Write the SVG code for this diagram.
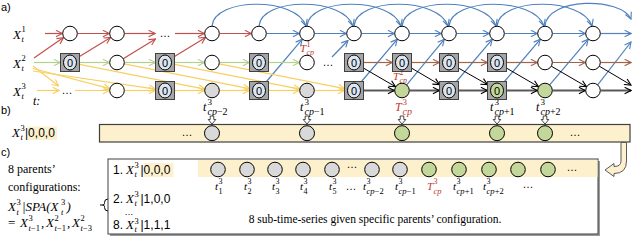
<svg xmlns="http://www.w3.org/2000/svg" width="640" height="241" viewBox="0 0 640 241">
<style>
text{font-family:"Liberation Serif","Times New Roman",serif;fill:#000}
.it{font-style:italic}
.up{font-style:normal}
.sa{font-family:"Liberation Sans",Arial,sans-serif}
.red{fill:#c0392b}
.dots{font-family:"Liberation Sans",Arial,sans-serif;font-size:11px;text-anchor:middle}
.nw{fill:#fff;stroke:#000;stroke-width:1}
.ng{fill:#d9d9d9;stroke:#000;stroke-width:1}
.nG{fill:#c4d79b;stroke:#000;stroke-width:1}
.bx{fill:#a5a5a5;stroke:#404040;stroke-width:1}
.zb{fill:#dce6f2;stroke:#000;stroke-width:1}
.zg{fill:#c4d79b;stroke:#000;stroke-width:1}
.z{font-family:"Liberation Sans",Arial,sans-serif;font-size:11px;text-anchor:middle}
.c{fill:none;stroke-width:1.2}
.r{stroke:#c0504d;marker-end:url(#mr)}
.b{stroke:#4f81bd;marker-end:url(#mb)}
.gn{stroke:#b5cf8f;marker-end:url(#mg)}
.y{stroke:#f7d064;marker-end:url(#my)}
.br{stroke:#a0644a;marker-end:url(#mbr)}
.k{stroke:#000;stroke-width:1;marker-end:url(#mk)}
.dg{stroke:#595959;stroke-width:2;marker-end:url(#mk)}
.ha{fill:#fff;stroke:#333;stroke-width:0.9}
.hl{fill:#fdf0cc}
</style>
<defs>
<marker id="mr" viewBox="0 0 10 10" refX="9" refY="5" markerWidth="8" markerHeight="8" markerUnits="userSpaceOnUse" orient="auto"><path d="M1,1 L9,5 L1,9" fill="none" stroke="#c0504d" stroke-width="1.4"/></marker>
<marker id="mb" viewBox="0 0 10 10" refX="9" refY="5" markerWidth="8" markerHeight="8" markerUnits="userSpaceOnUse" orient="auto"><path d="M1,1 L9,5 L1,9" fill="none" stroke="#4f81bd" stroke-width="1.4"/></marker>
<marker id="mg" viewBox="0 0 10 10" refX="9" refY="5" markerWidth="8" markerHeight="8" markerUnits="userSpaceOnUse" orient="auto"><path d="M1,1 L9,5 L1,9" fill="none" stroke="#b5cf8f" stroke-width="1.4"/></marker>
<marker id="my" viewBox="0 0 10 10" refX="9" refY="5" markerWidth="8" markerHeight="8" markerUnits="userSpaceOnUse" orient="auto"><path d="M1,1 L9,5 L1,9" fill="none" stroke="#f7d064" stroke-width="1.4"/></marker>
<marker id="mbr" viewBox="0 0 10 10" refX="9" refY="5" markerWidth="8" markerHeight="8" markerUnits="userSpaceOnUse" orient="auto"><path d="M1,1 L9,5 L1,9" fill="none" stroke="#a0644a" stroke-width="1.4"/></marker>
<marker id="mk" viewBox="0 0 10 10" refX="9" refY="5" markerWidth="8" markerHeight="8" markerUnits="userSpaceOnUse" orient="auto"><path d="M1,1 L9,5 L1,9" fill="none" stroke="#000" stroke-width="1.4"/></marker>
</defs>
<rect width="640" height="241" fill="#fff"/>

<!-- panel labels and row labels -->
<g id="labels">
<text class="sa" x="1" y="11" font-size="11">a)</text>
<text class="sa" x="1" y="114" font-size="11">b)</text>
<text class="sa" x="1" y="156" font-size="11">c)</text>
<text class="it"><tspan x="13" y="38.5" font-size="13">X</tspan><tspan x="21.5" y="32" font-size="8.5" class="up">1</tspan><tspan x="21.5" y="42" font-size="8.5">t</tspan></text>
<text class="it"><tspan x="13" y="67.5" font-size="13">X</tspan><tspan x="21.5" y="61" font-size="8.5" class="up">2</tspan><tspan x="21.5" y="71" font-size="8.5">t</tspan></text>
<text class="it"><tspan x="13" y="95.5" font-size="13">X</tspan><tspan x="21.5" y="89" font-size="8.5" class="up">3</tspan><tspan x="21.5" y="99" font-size="8.5">t</tspan></text>
<text class="it" x="33" y="105" font-size="12">t:</text>
<text class="dots" x="165" y="37">…</text>
<text class="dots" x="328" y="65.5">…</text>
<text class="dots" x="67" y="93.5">…</text>
<!-- red T labels -->
<text class="it red"><tspan x="300" y="51.5" font-size="11">T</tspan><tspan x="306.5" y="47" font-size="8" class="up">1</tspan><tspan x="306.5" y="54.5" font-size="8">cp</tspan></text>
<text class="it red"><tspan x="393" y="79.5" font-size="11">T</tspan><tspan x="399.5" y="75" font-size="8" class="up">2</tspan><tspan x="399.5" y="82.5" font-size="8">cp</tspan></text>
<!-- time labels -->
<text class="it"><tspan x="203" y="111" font-size="12">t</tspan><tspan x="207.5" y="104.5" font-size="9" class="up">3</tspan><tspan x="207.5" y="114.5" font-size="10">cp</tspan><tspan font-size="10" class="up">−2</tspan></text>
<text class="it"><tspan x="300" y="111" font-size="12">t</tspan><tspan x="304.5" y="104.5" font-size="9" class="up">3</tspan><tspan x="304.5" y="114.5" font-size="10">cp</tspan><tspan font-size="10" class="up">−1</tspan></text>
<text class="it red"><tspan x="395" y="111" font-size="12">T</tspan><tspan x="402.5" y="104.5" font-size="9" class="up">3</tspan><tspan x="402.5" y="114.5" font-size="10">cp</tspan></text>
<text class="it"><tspan x="490" y="111" font-size="12">t</tspan><tspan x="494.5" y="104.5" font-size="9" class="up">3</tspan><tspan x="494.5" y="114.5" font-size="10">cp</tspan><tspan font-size="10" class="up">+1</tspan></text>
<text class="it"><tspan x="536" y="111" font-size="12">t</tspan><tspan x="540.5" y="104.5" font-size="9" class="up">3</tspan><tspan x="540.5" y="114.5" font-size="10">cp</tspan><tspan font-size="10" class="up">+2</tspan></text>
<!-- b label -->
<rect class="hl" x="28" y="126.5" width="29" height="13.5"/>
<text class="it"><tspan x="12" y="137" font-size="13">X</tspan><tspan x="20.5" y="131" font-size="8.5" class="up">3</tspan><tspan x="20.5" y="140" font-size="8.5">t</tspan><tspan x="25" y="137" font-size="12" class="sa up">|0,0,0</tspan></text>
<!-- c left column -->
<text x="8" y="173" font-size="12">8 parents’</text>
<text x="8" y="191" font-size="12">configurations:</text>
<text class="it"><tspan x="8" y="211" font-size="13">X</tspan><tspan x="16.5" y="205" font-size="8.5" class="up">3</tspan><tspan x="16.5" y="214.5" font-size="8.5">t</tspan><tspan x="22" y="211" font-size="13">|SPA(X</tspan><tspan x="61" y="205" font-size="8.5" class="up">3</tspan><tspan x="61" y="214.5" font-size="8.5">t</tspan><tspan x="66.5" y="211" font-size="13">)</tspan></text>
<text class="it"><tspan x="8" y="227" font-size="13" class="up">=</tspan><tspan x="20" y="227" font-size="13">X</tspan><tspan x="28.5" y="221" font-size="8.5" class="up">3</tspan><tspan x="28.5" y="230.5" font-size="8.5">t</tspan><tspan font-size="8.5" class="up">−1</tspan><tspan x="41" y="227" font-size="13">,</tspan><tspan x="46" y="227" font-size="13">X</tspan><tspan x="54.5" y="221" font-size="8.5" class="up">2</tspan><tspan x="54.5" y="230.5" font-size="8.5">t</tspan><tspan font-size="8.5" class="up">−1</tspan><tspan x="67" y="227" font-size="13">,</tspan><tspan x="72" y="227" font-size="13">X</tspan><tspan x="80.5" y="221" font-size="8.5" class="up">2</tspan><tspan x="80.5" y="230.5" font-size="8.5">t</tspan><tspan font-size="8.5" class="up">−3</tspan></text>
<path d="M108,199 Q104.5,199 104.5,202.5 L104.5,203.5 Q104.5,205 102.5,205 L100,205 M102.5,205 Q104.5,205 104.5,206.5 L104.5,207.5 Q104.5,211 108,211" fill="none" stroke="#000" stroke-width="1"/>
</g>

<!-- b strip -->
<g id="strip-b">
<rect x="99.5" y="124.5" width="530.5" height="17.5" fill="#fdf0cc" stroke="#404040" stroke-width="1.2"/>
<text class="dots" x="187" y="135.5">…</text>
<text class="dots" x="575" y="135.5">…</text>
</g>

<!-- c box -->
<g id="box-c">
<rect x="110" y="161" width="490" height="75" fill="#9a9a9a"/>
<rect x="108" y="159" width="490" height="75" fill="#fff" stroke="#404040" stroke-width="1"/>
<rect class="hl" x="198" y="160" width="399.5" height="17"/>
<rect class="hl" x="143.5" y="163" width="30" height="14"/>
<text><tspan x="113" y="174" font-size="12" class="sa">1.</tspan><tspan x="126" y="174" font-size="13" class="it">X</tspan><tspan x="134.5" y="168" font-size="8.5">3</tspan><tspan x="134.5" y="177" font-size="8.5" class="it">t</tspan><tspan x="140.5" y="174" font-size="12" class="sa">|0,0,0</tspan></text>
<text><tspan x="113" y="203" font-size="12" class="sa">2.</tspan><tspan x="126" y="203" font-size="13" class="it">X</tspan><tspan x="134.5" y="197" font-size="8.5">3</tspan><tspan x="134.5" y="206" font-size="8.5" class="it">t</tspan><tspan x="140.5" y="203" font-size="12" class="sa">|1,0,0</tspan></text>
<text class="dots" x="129" y="215" style="font-size:9px">…</text>
<text><tspan x="113" y="229" font-size="12" class="sa">8.</tspan><tspan x="126" y="229" font-size="13" class="it">X</tspan><tspan x="134.5" y="223.5" font-size="8.5">3</tspan><tspan x="134.5" y="232" font-size="8.5" class="it">t</tspan><tspan x="140.5" y="229" font-size="12" class="sa">|1,1,1</tspan></text>
<text class="dots" x="352" y="168">…</text>
<text class="dots" x="572" y="171">…</text>
<text class="dots" x="351" y="190">…</text>
<text class="dots" x="528" y="188">…</text>
<text class="it"><tspan x="215" y="190" font-size="11">t</tspan><tspan x="218.6" y="184" font-size="8" class="up">3</tspan><tspan x="218.6" y="193.5" font-size="8" class="up">1</tspan></text>
<text class="it"><tspan x="244" y="190" font-size="11">t</tspan><tspan x="247.6" y="184" font-size="8" class="up">3</tspan><tspan x="247.6" y="193.5" font-size="8" class="up">2</tspan></text>
<text class="it"><tspan x="272" y="190" font-size="11">t</tspan><tspan x="275.6" y="184" font-size="8" class="up">3</tspan><tspan x="275.6" y="193.5" font-size="8" class="up">3</tspan></text>
<text class="it"><tspan x="300" y="190" font-size="11">t</tspan><tspan x="303.6" y="184" font-size="8" class="up">3</tspan><tspan x="303.6" y="193.5" font-size="8" class="up">4</tspan></text>
<text class="it"><tspan x="329" y="190" font-size="11">t</tspan><tspan x="332.6" y="184" font-size="8" class="up">3</tspan><tspan x="332.6" y="193.5" font-size="8" class="up">5</tspan></text>
<text class="it"><tspan x="363" y="190" font-size="11">t</tspan><tspan x="366.6" y="184" font-size="8" class="up">3</tspan><tspan x="366.6" y="193.5" font-size="8.5">cp</tspan><tspan font-size="8.5" class="up">−2</tspan></text>
<text class="it"><tspan x="395" y="190" font-size="11">t</tspan><tspan x="398.6" y="184" font-size="8" class="up">3</tspan><tspan x="398.6" y="193.5" font-size="8.5">cp</tspan><tspan font-size="8.5" class="up">−1</tspan></text>
<text class="it red"><tspan x="427" y="190" font-size="11">T</tspan><tspan x="433.5" y="184" font-size="8" class="up">3</tspan><tspan x="433.5" y="193.5" font-size="8.5">cp</tspan></text>
<text class="it"><tspan x="453" y="190" font-size="11">t</tspan><tspan x="456.6" y="184" font-size="8" class="up">3</tspan><tspan x="456.6" y="193.5" font-size="8.5">cp</tspan><tspan font-size="8.5" class="up">+1</tspan></text>
<text class="it"><tspan x="483" y="190" font-size="11">t</tspan><tspan x="486.6" y="184" font-size="8" class="up">3</tspan><tspan x="486.6" y="193.5" font-size="8.5">cp</tspan><tspan font-size="8.5" class="up">+2</tspan></text>
<text x="375" y="222.5" font-size="11.5" text-anchor="middle">8 sub-time-series given specific parents’ configuration.</text>
</g>

<!-- connectors -->
<g id="connectors">
<line class="c r" x1="45" y1="33.5" x2="62.3" y2="33.5"/>
<line class="c r" x1="77.8" y1="33.5" x2="109.3" y2="33.5"/>
<line class="c r" x1="124.8" y1="33.5" x2="155" y2="33.5"/>
<line class="c r" x1="175" y1="33.5" x2="204.3" y2="33.5"/>
<line class="c r" x1="219.8" y1="33.5" x2="251.3" y2="33.5"/>
<line class="c r" x1="34" y1="58" x2="63.5" y2="37.6"/>
<line class="c r" x1="79.5" y1="56.6" x2="110.6" y2="37.4"/>
<line class="c r" x1="123.2" y1="58.7" x2="155.5" y2="39"/>
<line class="c r" x1="174.5" y1="56.6" x2="205.6" y2="37.4"/>

<line class="c b" x1="266.8" y1="33.5" x2="299.3" y2="33.5"/>
<line class="c b" x1="314.8" y1="33.5" x2="346.3" y2="33.5"/>
<line class="c b" x1="361.8" y1="33.5" x2="394.3" y2="33.5"/>
<line class="c b" x1="409.8" y1="33.5" x2="441.3" y2="33.5"/>
<line class="c b" x1="456.8" y1="33.5" x2="489.3" y2="33.5"/>
<line class="c b" x1="504.8" y1="33.5" x2="537.3" y2="33.5"/>
<line class="c b" x1="552.8" y1="33.5" x2="585.3" y2="33.5"/>
<line class="c b" x1="600.8" y1="33.5" x2="631" y2="33.5"/>
<line class="c b" x1="266.5" y1="81.5" x2="302.2" y2="39.3"/>
<line class="c b" x1="332" y1="57" x2="348" y2="40.5"/>
<line class="c b" x1="361.5" y1="81.5" x2="397.2" y2="39.3"/>
<line class="c b" x1="406.7" y1="84.9" x2="444.2" y2="39.3"/>
<line class="c b" x1="456.5" y1="81.5" x2="492.2" y2="39.3"/>
<line class="c b" x1="504.5" y1="81.5" x2="540.2" y2="39.3"/>
<line class="c b" x1="549.7" y1="84.9" x2="588.2" y2="39.3"/>
<line class="c b" x1="597.7" y1="84.9" x2="631" y2="42"/>
<path class="c b" d="M212,26.2 C214,-3 297,-3 306,26"/>
<path class="c b" d="M259,26.2 C261,-3 344,-3 353,26"/>
<path class="c b" d="M307,26.2 C309,-3 392,-3 401,26"/>
<path class="c b" d="M354,26.2 C356,-3 439,-3 448,26"/>
<path class="c b" d="M402,26.2 C404,-3 487,-3 496,26"/>
<path class="c b" d="M449,26.2 C451,-3 535,-3 544,26"/>
<path class="c b" d="M497,26.2 C499,-3 583,-3 592,26"/>
<path class="c b" d="M545,26.2 C547,-3 621,-3 631,19"/>

<line class="c gn" x1="34" y1="62.5" x2="60.3" y2="62.5"/>
<line class="c gn" x1="79.8" y1="62.5" x2="109.3" y2="62.5"/>
<line class="c gn" x1="124.8" y1="62.5" x2="155.3" y2="62.5"/>
<line class="c gn" x1="174.8" y1="62.5" x2="204.3" y2="62.5"/>
<line class="c gn" x1="219.8" y1="62.5" x2="249.3" y2="62.5"/>
<line class="c gn" x1="268.8" y1="62.5" x2="299.3" y2="62.5"/>

<line class="c br" x1="363.8" y1="62.5" x2="392.3" y2="62.5"/>
<line class="c br" x1="411.8" y1="62.5" x2="439.3" y2="62.5"/>
<line class="c br" x1="458.8" y1="62.5" x2="487.3" y2="62.5"/>
<line class="c br" x1="506.8" y1="62.5" x2="537.3" y2="62.5"/>
<line class="c br" x1="552.8" y1="62.5" x2="585.3" y2="62.5"/>
<line class="c br" x1="600.8" y1="62.5" x2="631" y2="62.5"/>

<line class="c y" x1="37" y1="90.5" x2="59" y2="90.5"/>
<line class="c y" x1="75" y1="90.5" x2="109.3" y2="90.5"/>
<line class="c y" x1="124.8" y1="90.5" x2="155.3" y2="90.5"/>
<line class="c y" x1="174.8" y1="90.5" x2="204.3" y2="90.5"/>
<line class="c y" x1="219.8" y1="90.5" x2="249.3" y2="90.5"/>
<line class="c y" x1="268.8" y1="90.5" x2="299.3" y2="90.5"/>
<line class="c y" x1="314.8" y1="90.5" x2="344.3" y2="90.5"/>
<line class="c y" x1="33" y1="66" x2="58.5" y2="86"/>
<line class="c y" x1="33" y1="68.5" x2="109.9" y2="88.7"/>
<line class="c y" x1="33" y1="71" x2="155.5" y2="89.1"/>
<line class="c y" x1="79.5" y1="64.4" x2="204.8" y2="89.1"/>
<line class="c y" x1="124.2" y1="63.9" x2="249.5" y2="88.6"/>
<line class="c y" x1="174.5" y1="64.4" x2="299.8" y2="89.1"/>
<line class="c y" x1="219.2" y1="63.9" x2="344.5" y2="88.6"/>

<line class="c dg" x1="363.8" y1="90.5" x2="394.3" y2="90.5"/>
<line class="c dg" x1="409.8" y1="90.5" x2="439.3" y2="90.5"/>
<line class="c dg" x1="458.8" y1="90.5" x2="487.3" y2="90.5"/>
<line class="c dg" x1="506.8" y1="90.5" x2="537.3" y2="90.5"/>
<line class="c dg" x1="552.8" y1="90.5" x2="585.3" y2="90.5"/>
<line class="c dg" x1="600.8" y1="90.5" x2="631" y2="90.5"/>

<line class="c k" x1="363.5" y1="68.1" x2="395.5" y2="86.7"/>
<line class="c k" x1="411.5" y1="68.1" x2="439.5" y2="84.6"/>
<line class="c k" x1="458.5" y1="68.1" x2="487.5" y2="84.6"/>
<line class="c k" x1="506.5" y1="68.1" x2="538.5" y2="86.7"/>
<line class="c k" x1="551.3" y1="66.2" x2="586.5" y2="86.7"/>
<line class="c k" x1="599.3" y1="66.2" x2="631" y2="85"/>

<polygon class="ha" points="210.2,116 213.8,116 213.8,119.5 215.8,119.5 212,124 208.2,119.5 210.2,119.5"/>
<polygon class="ha" points="305.2,116 308.8,116 308.8,119.5 310.8,119.5 307,124 303.2,119.5 305.2,119.5"/>
<polygon class="ha" points="400.2,116 403.8,116 403.8,119.5 405.8,119.5 402,124 398.2,119.5 400.2,119.5"/>
<polygon class="ha" points="495.2,116 498.8,116 498.8,119.5 500.8,119.5 497,124 493.2,119.5 495.2,119.5"/>
<polygon class="ha" points="543.2,116 546.8,116 546.8,119.5 548.8,119.5 545,124 541.2,119.5 543.2,119.5"/>
<path d="M621,142.5 L626.5,142.5 L626.5,161 Q626.5,173.5 614,173.5 L614,176.5 L605,170 L614,163.5 L614,166.5 Q621,166.5 621,161 Z" fill="#fdf0cc" stroke="#595959" stroke-width="1"/>
</g>

<!-- row 1 nodes -->
<g id="r1c0"><circle class="nw" cx="70" cy="33.5" r="7.3"/></g>
<g id="r1c1"><circle class="nw" cx="117" cy="33.5" r="7.3"/></g>
<g id="r1c3"><circle class="nw" cx="212" cy="33.5" r="7.3"/></g>
<g id="r1c4"><circle class="nw" cx="259" cy="33.5" r="7.3"/></g>
<g id="r1c5"><circle class="nw" cx="307" cy="33.5" r="7.3"/></g>
<g id="r1c6"><circle class="nw" cx="354" cy="33.5" r="7.3"/></g>
<g id="r1c7"><circle class="nw" cx="402" cy="33.5" r="7.3"/></g>
<g id="r1c8"><circle class="nw" cx="449" cy="33.5" r="7.3"/></g>
<g id="r1c9"><circle class="nw" cx="497" cy="33.5" r="7.3"/></g>
<g id="r1c10"><circle class="nw" cx="545" cy="33.5" r="7.3"/></g>
<g id="r1c11"><circle class="nw" cx="593" cy="33.5" r="7.3"/></g>

<!-- row 2 nodes -->
<g id="r2c0"><rect class="bx" x="60.5" y="53.5" width="19" height="18"/><ellipse class="zb" cx="70" cy="62.5" rx="6.5" ry="7.5"/><text class="z" x="70" y="66.5">0</text></g>
<g id="r2c1"><circle class="nw" cx="117" cy="62.5" r="7.3"/></g>
<g id="r2c2"><rect class="bx" x="155.5" y="53.5" width="19" height="18"/><ellipse class="zb" cx="165" cy="62.5" rx="6.5" ry="7.5"/><text class="z" x="165" y="66.5">0</text></g>
<g id="r2c3"><circle class="nw" cx="212" cy="62.5" r="7.3"/></g>
<g id="r2c4"><rect class="bx" x="249.5" y="53.5" width="19" height="18"/><ellipse class="zb" cx="259" cy="62.5" rx="6.5" ry="7.5"/><text class="z" x="259" y="66.5">0</text></g>
<g id="r2c5"><circle class="nw" cx="307" cy="62.5" r="7.3"/></g>
<g id="r2c6"><rect class="bx" x="344.5" y="53.5" width="19" height="18"/><ellipse class="zb" cx="354" cy="62.5" rx="6.5" ry="7.5"/><text class="z" x="354" y="66.5">0</text></g>
<g id="r2c7"><rect class="bx" x="392.5" y="53.5" width="19" height="18"/><ellipse class="zb" cx="402" cy="62.5" rx="6.5" ry="7.5"/><text class="z" x="402" y="66.5">0</text></g>
<g id="r2c8"><rect class="bx" x="439.5" y="53.5" width="19" height="18"/><ellipse class="zb" cx="449" cy="62.5" rx="6.5" ry="7.5"/><text class="z" x="449" y="66.5">0</text></g>
<g id="r2c9"><rect class="bx" x="487.5" y="53.5" width="19" height="18"/><ellipse class="zb" cx="497" cy="62.5" rx="6.5" ry="7.5"/><text class="z" x="497" y="66.5">0</text></g>
<g id="r2c10"><circle class="nw" cx="545" cy="62.5" r="7.3"/></g>
<g id="r2c11"><circle class="nw" cx="593" cy="62.5" r="7.3"/></g>

<!-- row 3 nodes -->
<g id="r3c1"><circle class="nw" cx="117" cy="90.5" r="7.3"/></g>
<g id="r3c2"><rect class="bx" x="155.5" y="81.5" width="19" height="18"/><ellipse class="zb" cx="165" cy="90.5" rx="6.5" ry="7.5"/><text class="z" x="165" y="94.5">0</text></g>
<g id="r3c3"><circle class="ng" cx="212" cy="90.5" r="7.3"/></g>
<g id="r3c4"><rect class="bx" x="249.5" y="81.5" width="19" height="18"/><ellipse class="zb" cx="259" cy="90.5" rx="6.5" ry="7.5"/><text class="z" x="259" y="94.5">0</text></g>
<g id="r3c5"><circle class="ng" cx="307" cy="90.5" r="7.3"/></g>
<g id="r3c6"><rect class="bx" x="344.5" y="81.5" width="19" height="18"/><ellipse class="zb" cx="354" cy="90.5" rx="6.5" ry="7.5"/><text class="z" x="354" y="94.5">0</text></g>
<g id="r3c7"><circle class="nG" cx="402" cy="90.5" r="7.3"/></g>
<g id="r3c8"><rect class="bx" x="439.5" y="81.5" width="19" height="18"/><ellipse class="zb" cx="449" cy="90.5" rx="6.5" ry="7.5"/><text class="z" x="449" y="94.5">0</text></g>
<g id="r3c9"><rect class="bx" x="487.5" y="81.5" width="19" height="18"/><ellipse class="zg" cx="497" cy="90.5" rx="6.5" ry="7.5"/><text class="z" x="497" y="94.5">0</text></g>
<g id="r3c10"><circle class="nG" cx="545" cy="90.5" r="7.3"/></g>
<g id="r3c11"><circle class="nw" cx="593" cy="90.5" r="7.3"/></g>

<!-- b strip nodes -->
<g id="b1"><circle class="ng" cx="212" cy="133.2" r="7.5"/></g>
<g id="b2"><circle class="ng" cx="307" cy="133.2" r="7.5"/></g>
<g id="b3"><circle class="nG" cx="402" cy="133.2" r="7.5"/></g>
<g id="b4"><circle class="nG" cx="497" cy="133.2" r="7.5"/></g>
<g id="b5"><circle class="nG" cx="545" cy="133.2" r="7.5"/></g>

<!-- c strip nodes -->
<g id="s1"><circle class="ng" cx="218" cy="169.5" r="7.3"/></g>
<g id="s2"><circle class="ng" cx="247" cy="169.5" r="7.3"/></g>
<g id="s3"><circle class="ng" cx="275" cy="169.5" r="7.3"/></g>
<g id="s4"><circle class="ng" cx="303" cy="169.5" r="7.3"/></g>
<g id="s5"><circle class="ng" cx="332" cy="169.5" r="7.3"/></g>
<g id="s6"><circle class="ng" cx="372" cy="169.5" r="7.3"/></g>
<g id="s7"><circle class="ng" cx="400" cy="169.5" r="7.3"/></g>
<g id="s8"><circle class="nG" cx="429" cy="169.5" r="7.3"/></g>
<g id="s9"><circle class="nG" cx="459" cy="169.5" r="7.3"/></g>
<g id="s10"><circle class="nG" cx="489" cy="169.5" r="7.3"/></g>
<g id="s11"><circle class="nG" cx="518" cy="169.5" r="7.3"/></g>
<g id="s12"><circle class="nG" cx="548" cy="169.5" r="7.3"/></g>
</svg>
